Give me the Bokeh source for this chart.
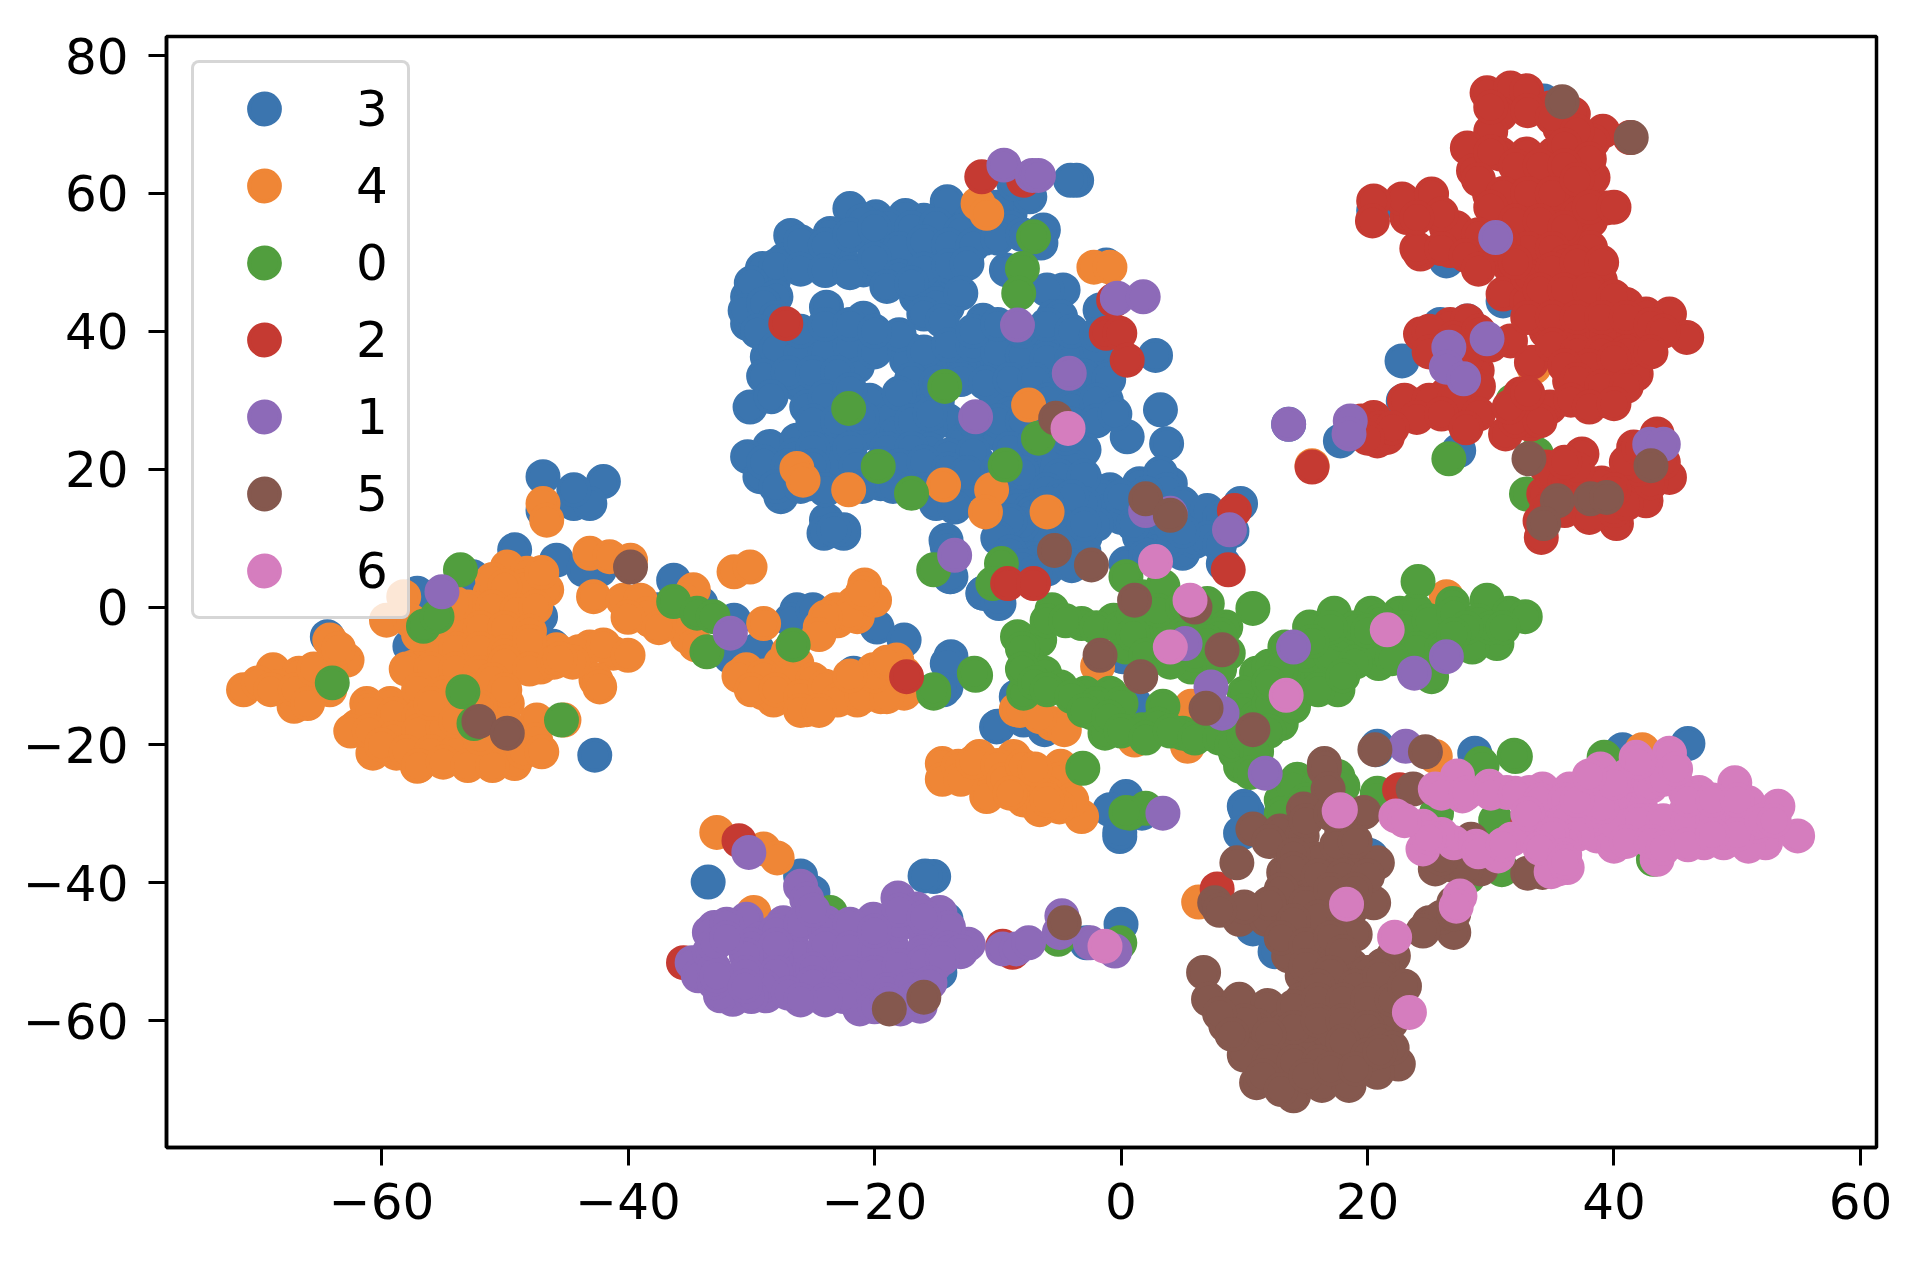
from bokeh.plotting import figure
from bokeh.models import Legend, LegendItem, FixedTicker, Range1d
from bokeh.embed import file_html
from bokeh.resources import INLINE

labels = ["3", "4", "0", "2", "1", "5", "6"]
colors = ["#3b75af", "#ef8636", "#519e3e", "#c53a32", "#8d6ab8", "#85584e", "#d57dbe"]

x_ticks = [-60, -40, -20, 0, 20, 40, 60]
y_ticks = [-60, -40, -20, 0, 20, 40, 60, 80]

s3 = [(-26.8,53.9),(-22.0,57.8),(-19.9,56.6),(-17.5,56.8),(-14.1,58.8),(-23.6,54.2),(-27.4,50.3),(-29.1,49.1),(-30.3,45.0),(-30.3,41.1),
(-25.5,51.3),(-22.8,52.2),(-20.4,53.2),(-18.2,53.7),(-16.0,56.1),(-14.4,54.2),(-12.2,56.1),(-10.6,55.6),(-9.0,57.1),(-7.4,59.5),(-6.3,54.7),(-10.1,58.0),
(-20.9,48.9),(-17.6,49.8),(-15.5,51.8),(-13.3,51.8),(-11.7,54.2),(-15.5,46.4),(-14.1,43.5),(-16.6,45.0),(-28.2,47.4),(-24.9,50.3),(-22.5,49.8),(-13.6,48.4),(-8.7,61.4),(-3.6,61.9),(-4.1,61.9),
(-9.3,48.9),(-4.7,46.0),(-6.0,46.0),(-5.5,42.1),(-1.7,43.1),(-1.2,49.6),(2.8,36.5),
(-23.9,43.5),(-20.9,41.9),(-25.8,38.7),(-28.7,36.3),(-26.8,38.7),(-23.1,38.7),(-19.5,38.7),(-17.1,37.3),(-14.4,36.3),(-11.2,41.6),(-11.7,37.7),(-8.7,37.7),(-6.0,38.7),(-3.6,38.2),(-4.9,42.1),(-2.0,35.8),(-1.2,30.0),(-3.3,31.0),(-4.9,34.4),(-7.9,34.9),(-10.1,34.9),(-12.8,34.9),(-15.5,34.4),(-17.4,35.8),(-21.7,36.3),(-24.1,36.3),
(-28.5,32.9),(-30.1,29.0),(-26.3,32.4),(-24.1,32.9),(-21.4,34.9),(-25.5,29.0),(-23.1,29.5),(-20.4,30.0),(-18.7,27.6),(-16.6,30.0),(-14.9,30.0),(-14.1,27.1),(-10.1,30.0),(-7.9,31.0),(-15.5,26.1),
(-28.5,23.3),(-30.3,21.8),(-26.3,24.2),(-23.6,25.2),(-20.9,25.2),(-18.2,25.2),(-15.5,22.8),(-12.8,24.2),(-10.1,25.2),(-8.5,26.6),(-3.0,22.8),(-6.0,21.3),(-7.9,21.3),(-11.7,21.3),
(-29.3,18.9),(-27.6,16.0),(-25.2,17.9),(-23.6,20.8),(-19.5,17.9),(-16.8,19.4),(-14.1,16.0),(-12.8,17.5),(-7.9,17.0),(-8.4,14.6),(-23.9,12.6),(-22.5,11.2),(-3.9,20.4),(-2.2,17.0),(-0.9,17.0),(0.5,24.7),(3.2,28.6),(3.7,23.7),(1.5,17.9),(4.0,17.9),(3.2,19.4),(2.1,15.0),(-0.6,16.5),(5.9,13.1),(4.5,14.1),(7.2,12.1),(6.7,10.7),(3.4,11.2),(-3.9,13.6),(-4.1,11.2),(-5.8,14.6),(-7.4,14.1),(-8.4,10.2),(1.5,10.2),
(-7.2,13.6),(-4.6,13.6),(-7.6,9.7),(-5.2,7.3),(-2.9,10.2),(-1.6,16.0),(3.7,17.0),(6.4,12.1),(3.0,8.7),(5.0,7.8),(0.4,6.3),(9.7,15.0),(8.3,6.3),(-14.2,9.7),(-13.8,4.4),(-11.2,2.0),(-9.9,0.5),
(-13.8,-7.2),(-14.2,-11.6),(-10.0,-17.3),(-8.5,-13.0),(-6.2,-17.8),(1.1,-14.0),(0.1,-7.2),(0.4,-27.5),(-0.9,-29.4),(-0.1,-33.3),(1.7,-29.9),(10,-28.9),(10.3,-29.9),(9.7,-32.8),(20.8,-20.2),(28.7,-21.2),(-15.2,-39.1),(20.3,-36.2),
(-36.3,3.9),(-34.1,0.5),(-37.6,-0.4),(-31.4,-1.9),(-26.3,-0.4),(-26.8,-1.9),(-25,-0.4),(-19.8,-2.9),(-17.6,-4.8),(-21.7,-9.6),(-14.1,-8.2),(-14.4,-12.0),(-31.7,-7.2),(-29.5,-6.2),(-10.1,-17.4),(-11.2,2),(-10,1),(-14.1,8.7),(-13.9,4.4),(-8.5,9.2),(-8.5,6.3),(-7.4,10.2),(-24.1,10.7),(-22.5,10.7),(-23.3,11.2),(-7.9,-16.4),
(-46.9,18.9),(-42.0,18.2),(-44.4,15),(-43.1,15),(-46.9,14),(-44.4,17),(-49.2,8.3),(-45.8,6.8),(-43.6,5.4),(-42.3,5.4),(-47.1,-1.4),(-64.4,-4.3),(-57.1,2),(-49.3,-8.7),(-46.1,-5.7),(-42.7,-21.5),(-52.6,4.4),(-57.7,-5.7),
(-33.5,-39.9),(-15.9,-39.0),(-26.0,-39),(-25,-41.4),(-14.2,-45.3),(-14.7,-53),(0,-46.0),(-2.8,-48.7),(-0.1,-32.7),
(20.5,57.5),(34.3,73.4),(26.4,50.2),(22.8,35.7),(22.9,29.9),(13.6,26.5),(17.8,24.1),(27.4,22.7),(28.1,41.5),(25.9,41),(31,44.4),(40,34.8),(28,28),
(20.7,-20.7),(28.8,-21.8),(40.7,-20.7),(46,-19.8),(10.1,-29.4),(9.9,-32.7),(12.5,-50),(10.7,-46.7),(20.1,-36),
(-21,56),(-19,55.5),(-17,55),(-15,55.5),(-13,54.5),(-11,53.5),(-9,55),(-26,53),(-24,52.5),(-22,54),(-20,55),(-18,52),(-16,53),(-14,52.5),(-12,52.5),(-10,53.5),(-8,54),(-6.5,52.8),
(-28,49.5),(-26,49),(-24,48.8),(-22,48.5),(-20,50.5),(-18,48),(-16,49),(-14,49.5),(-12.5,49.8),(-30,47),(-28,45),(-19,46.5),(-17,47),(-15,44),(-13,45.5),(-30.5,43),(-29,44),(-28,42),(-29.5,40),(-16,42.5),(-14.5,41.5),
(-28,37.5),(-26,36.5),(-24,37),(-22,38),(-20,37),(-18,39.5),(-16,37),(-14,38),(-12,38),(-10,37),(-8,36.5),(-6,36),(-4,36),(-2,37.5),(-26,40),(-24,41),(-22,41),(-20,40),(-12,40),(-10,41),(-8,40),(-6,41),(-4,40),(-2,39.5),
(-29,33.5),(-27,34),(-25,34),(-23,34),(-17,33),(-15,32.5),(-13,33),(-11,32.5),(-9,33),(-7,33),(-5,32),(-3,33.5),(-1,33),
(-28.4,30.5),(-24,30.5),(-22,31.5),(-18,31),(-9,28),(-6,30),(-4,29),(-2,30),(-25,27),(-23,27),(-21,27.5),(-17,27),(-15.5,28),(-12,27),(-10,27),(-8,27),(-6,26.5),(-4,26.5),(-2,27),(-0.5,28),
(-26.5,22),(-25,23),(-22,23),(-19,23),(-17,23),(-14,22),(-12,22.5),(-9,23),(-7,24),(-4.5,24.5),(-29,21),(-27,20.5),(-25,20.5),(-21.5,20.5),(-19.5,20.8),(-18,20.5),(-16,21),(-14,20),(-12.5,19.5),(-10,20),(-8,19.5),(-5,19),(-3,19),
(-28,17.5),(-26,17.5),(-24,17),(-21,17.5),(-18.5,17.5),(-16,17),(-15,15),(-13.5,14.5),(-1,14),(0,13),(-2,12),(-3,15),(-6,11),(-6,12.5),(-6,9.8),(-4,10),(-3,8),(-7,7),(-6,5.5),(-4,6),
(0,16),(2,16.5),(5,15),(7,14),(8,13),(6,9.5),(4,9.5),(2,7.5),(7,10),(9,11),(8,9),
(-6,17),(-5,16),(-4,16),(-8,12),(-6,15),(-3,12),(-9,12.5),(-10,10),(-9,8),(-8,6),(-7,5),(3,13),(1,12),(4,12),(5,11)]

s4 = [(-46.9,15),(-46.6,12.6),(-43.1,7.8),(-41.5,7.3),(-39.8,6.8),(-42.8,1.5),(-40.4,1),(-38.2,-1.9),
(-49.8,5.8),(-48.2,4.9),(-46.6,2.5),(-51.2,2),(-49.3,1),(-53.6,-1.4),(-51.7,-1.4),(-48.8,-1.9),(-55,-4.3),(-52.3,-4.8),(-49.6,-4.8),(-57.4,-8.7),(-55,-7.7),(-52.3,-7.7),(-48,-6.2),(-45.8,-6.2),(-43.1,-5.8),(-41.2,-6.7),(-47.1,-8.7),(-42.6,-10.6),(-42.3,-11.6),(-56.3,-11.6),(-53.4,-10.1),(-51.7,-12.5),(-49.8,-14),(-59.6,-1.9),(-58.2,1.5),(-57.7,-1.9),
(-61.2,-14),(-59.3,-14),(-62,-17.3),(-60.7,-21.2),(-59.3,-17.3),(-57.4,-15.4),(-55.5,-16.4),(-57.7,-19.3),(-55.5,-19.3),(-57.1,-23.1),(-58.8,-21.2),(-56.9,-22.7),(-53.4,-22.2),(-50.6,-22.2),(-49.2,-22.7),(-55,-20.2),(-47.4,-16.4),(-47.5,-19.3),(-45.2,-16.4),
(-71.2,-12),(-68.8,-9.1),(-66.7,-9.6),(-64.2,-4.8),(-62.8,-7.7),(-67.1,-14.4),(-68.5,-11.6),(-65.8,-11.6),(-64.2,-12),(-64.2,-8.7),
(-31.4,5.1),(-30.1,5.8),(-38.2,-1.9),(-34.7,2.5),(-35.5,1),(-35.2,-4.3),(-29,-2.4),(-20.8,3.2),(-21.7,0.5),(-23.1,-0.4),(-21.4,-1.4),(-24.4,-2.9),(-30.4,-9.1),(-27.6,-8.2),(-26.3,-8.2),(-29,-12.5),(-28.2,-13.5),(-25.5,-14.9),(-25.5,-12.5),(-23.3,-13),(-21.4,-13.5),(-19.5,-13),(-17.6,-12.5),(-20.1,-9.1),(-18.2,-7.7),(-17.6,-9.6),(-27.1,-10.6),(-8.5,-14.9),(-7.9,-14.4),
(-14.5,-22.7),(-14.5,-25),(-11.5,-21.7),(-8.7,-21.7),(-11.2,-24.6),(-10.9,-27.5),(-8.2,-25),(-7.9,-28),(-4.9,-23.1),(-4.6,-26),(-6.6,-29.4),(-3.2,-30.4),(-13.2,-23.1),
(-8.2,-15),(-5.6,-16.9),(-4.6,-17.8),(-6.6,-15.9),(-1.9,-8.6),(-0.3,-13.5),(5.7,-14.4),(5.4,-20.2),(1.1,-19.3),
(-11.6,58.5),(-10.9,57.1),(-2.2,49.3),(-0.9,49.3),(-26.3,20.1),(-25.8,18.4),(-22.1,17),(-14.4,17.7),(-10.5,17),(-11,13.8),(-6,13.8),(-7.5,29.3),
(33.5,34.8),(15.5,20.5),(-32.8,-32.7),(-29,-35.1),(-27.9,-36.4),(-29.8,-44.3),(6.3,-42.8),(26.4,1.5),(25.5,-21.7),(42.3,-20.7),
(-51,4),(-48.5,3),(-47,5),(-50,3),(-53,0),(-51,0),(-49,-0.5),(-47.5,0),(-56,-3),(-54,-3),(-52,-3),(-50,-3),(-48,-3.5),(-56,-6),(-54,-6),(-52,-6),(-50,-6.5),(-48,-5),(-44,-6.5),(-42,-5.5),(-40,-7),(-58,-9),(-56,-9),(-54,-9),(-52,-9.5),(-50,-8),(-48,-9),(-46,-8),
(-57,-12),(-55,-12.5),(-53,-12),(-51,-10.5),(-61,-15),(-59,-15.5),(-57,-16),(-55,-14.5),(-53,-14.5),(-51,-15),(-62.5,-18),(-61,-18),(-59,-19),(-57,-18),(-55,-17.5),(-53,-18),(-60,-20),(-58,-21),(-56,-21),(-54,-21),(-52,-20.5),(-50,-20.5),(-57,-23),(-55,-22.5),(-53,-23),(-51,-23),
(-70,-11),(-69,-12),(-67,-12),(-66,-14),(-65.5,-9),(-63.5,-6),
(-31,-10),(-29,-10),(-27,-9.5),(-25,-10.5),(-30,-12),(-28,-12),(-26,-13),(-24,-11.5),(-22,-11),(-20,-11),(-18.5,-11),(-23,-13.5),(-21,-13),(-19,-13),(-26,-15),(-24.5,-15),(-20,-10),(-18,-9),(-27,-6.5),(-22,-10),(-19,-8),
(-23,-2),(-22,-1),(-20,1),(-21,2),(-24,-1.5),(-24.5,-4),(-39,1),(-38.5,-1),(-40,-1.5),(-37.5,-3),(-35,-2),(-34.5,-5.5),
(-13,-25),(-12,-22.5),(-10,-23),(-9.5,-25),(-8,-23),(-6.5,-25),(-5,-25),(-9,-27),(-6,-27),(-4,-28),(-5,-29),(-7,-23.5),(-6,-28),
(-56,-14),(-54,-16.5),(-50,-17),(-52,-19),(-48.5,-21),(-47,-21),(-50,-12),(-52,-14.5),(-44.5,-8),(-45.5,-7.5),(-55,-1.5),(-57,-4),(-54,0.5)]

s0 = [(-53.6,5.4),(-56.6,-2.8),(-55.5,-1.4),(-64,-11),(-53.4,-12.3),(-52.5,-16.9),(-45.4,-16.4),
(-36.3,0.8),(-34.4,-0.9),(-33.1,-1.4),(-33.6,-6.5),(-26.6,-5.5),(-15.2,5.4),(-9.7,6.3),(-10.4,3.4),(-15.2,-12.5),(-11.8,-9.9),
(-7.1,53.7),(-8,49.1),(-8.3,45.5),(-14.3,32),(-22.1,28.8),(-6.7,24.5),(-9.4,20.6),(-19.7,20.4),(-17,16.5),
(0.4,4.4),(1.7,1.5),(3.4,3),(7,0.5),(10.7,-0.2),(8.5,-2.9),(5,-1.9),(-0.6,-1.9),(2.4,-1.9),(-5.6,-0.4),(-3.2,-2.4),(-8.4,-4.3),(-6.6,-4.8),(0.4,-5.8),(5.7,-8.7),(3.4,-5.8),(8.7,-6.7),(-7.6,-7.7),(-7.9,-12.5),(-6.2,-9.6),(-4.9,-11.6),(-2.9,-12.5),(-0.9,-12.5),(-2.3,-15.4),(-1.3,-18.3),(1.7,-17.8),(3.4,-14.4),(5,-18.3),(7,-18.3),(9.3,-21.2),(9.7,-23.1),(11,-19.8),(13,-16.9),(11.3,-12.5),(11,-9.6),(14,-14.4),(10,-12.5),(12,-8.6),(14.3,-11.6),(17.6,-12),(16.3,-8.6),(15.3,-2.9),(17.3,-0.9),(20.3,-0.9),(22.6,-0.9),(18,-6.7),(20.9,-8.2),(23.9,-0.4),(24.1,3.7),(26.9,0.5),(29.7,1),(31.5,-0.9),(32.8,-1.4),(30.5,-5.3),(27.5,-3.3),(24.9,-4.3),(24.2,-8.7),(28.5,-5.8),(25.2,-10.1),(19.3,-5.8),(13.3,-5.8),
(-11.9,-9.6),(-15.2,-12),(-3.1,-23.4),(0.7,-29.9),(2,-29.2),(14.3,-25),(17.6,-24.6),(13,-28),(14.3,-27.5),(19,-35.7),(20.8,-27),(32,-21.7),(29.2,-22.7),(25.6,-29.9),(30.4,-30.9),(30.9,-38.1),(28.2,-39.1),
(26.6,21.5),(32.9,16.4),(33.7,22.2),(31.8,29.9),(43.2,-36.6),(39.2,-21.8),(31.9,-21.5),(29.3,-23),(20.8,-27.5),(-23.6,-44.3),(-5.1,-48.2),(-0.1,-48.7),(0.4,-29.8),
(-6,-2),(-4.5,-2),(-2,-3),(0,-3),(2,-3),(4,-3),(6,-3),(8,-4),(1,-1),(3,-0.5),(5,0),(-8,-6),(-8,-9),(-7,-11),(-6,-12),(-4,-13),(-2,-14),(0,-14),(-3,-15),(-1,-16),(0,-18),(3,-17),(2,-19),(4,-18),(6,-19),(8,-19),(9,-20),
(1,-4),(2,-7),(4,-8),(6,-7),(7,-5),(8,-9),(5,-4),
(10,-15),(11,-16),(12,-14),(13,-12),(14,-10),(16,-10),(15,-7),(13,-9),(17,-7),(18,-4),(19,-3),(21,-2),(23,-3),(25,-2),(27,-1),(29,-2),(30,-3),(31,-3),(22,-5),(24,-6),(26,-6),(28,-3),(21,-6),(19,-8),(17,-3),(15.5,-5),(16,-12),(18,-10),(12,-18),(10,-19),(11,-21),(10.5,-24),(12,-11),(20,-3.5),(22,-7.5),(27,-4),
(14,-26),(16,-26),(18,-26),(15,-28),(13,-30),(17,-27)]

s2 = [(29.7,74.6),(31.6,75.3),(32.9,74.9),(34.8,72.4),(36.7,71.5),(30.8,71.5),(39.1,69),(41.3,68.1),(38.3,67.6),(30,69),(28.1,66.6),(35.6,69.5),(28.6,63.3),(30.8,65.7),(32.9,65.7),(35.1,65.7),(29.9,59.9),(32.4,61.8),(34.6,61.8),(38.3,62.3),(36.7,59.9),(39.4,57.9),(31.3,57.5),(33.7,57.9),(35.9,57),(38.1,56),(32.4,53.6),(34.8,54.6),(37,52.1),(38.1,52.1),(34,50.7),(31.6,49.2),(28.6,51.7),(26.7,51.7),(24.3,51.2),(26.4,55.0),(27.2,55),(23.2,56.5),(22.8,59.2),(25.2,59.9),(20.5,58.9),(20.4,56),
(31,45.4),(34.5,47.8),(38.9,47.3),(36.7,47.8),(32.9,44.4),(35.6,44.4),(38.3,44.4),(41,43.9),(42.6,42.5),(44.5,42.5),(45.9,39.1),(41,39.6),(43.2,39.1),(34.5,40),(37,39.6),(39.1,39.6),(34.3,41.5),(36.4,32.8),(38.3,33.8),(41.8,33.8),(39.7,34.3),(39.4,29.9),(37.2,30.9),(40.5,31.9),
(24.3,39.6),(26.7,41),(28.1,41.5),(26.7,37.2),(28.9,37.7),(31.6,38.6),(28.9,34.3),(33.3,35.5),(32.4,30.9),(33.5,28),(34.8,29),(33.2,26.5),(31.2,25.1),
(23.5,29),(25.4,29),(27.8,28.5),(27.5,27.5),(26.4,30.9),(20.5,27.5),(19.7,25.1),(21.6,24.6),(20.8,24.1),(15.5,20.3),
(34.5,20.3),(37.4,22.2),(37.4,15),(34.3,16.4),(40.2,12.1),(34.1,10.1),(39.4,16.4),(41.6,23.2),(43.5,25.1),(44.5,18.8),(42.6,15.4),(41,18.8),(34,12.5),
(-11.3,62.4),(-7.9,61.9),(-27.2,41.1),(-0.6,44.5),(-1.2,39.7),(-0.1,39.7),(0.5,35.8),
(-9.2,3.4),(-7.1,3.4),(8.7,5.4),(9.2,14),(-17.4,-10.1),(-31,-33.9),(-35.5,-51.6),(-9.6,-49.2),(-8.8,-50.1),(7.8,-40.9),(22.6,-26.5),(33,-31.4),
(30,72.5),(33,72),(35,71),(37,69),(36,67),(38,65),(30,66),(32,64),(34,64),(36,64),(29,62),(31,60),(33,60),(35,60),(37,62),(37,57),(30,58),(32,56),(34,56),(36,55),(38,58),(40,58),(33,52),(35,52),(31,53),(29,54),(36,50),(38,49),(33,48),(30,52),(32,50),(35,49),(37,50),(39,50),
(34,46),(36,46),(38,46),(40,45),(33,42),(35,42),(37,42),(39,42),(41,42),(43,41),(44,40),(35,38),(37,37),(39,37),(41,37),(43,37),(38,35),(40,36),(36,35),(37,33),(39,32),(41,32),(36.5,30),(38,29),(40,29.5),
(24,52),(26,52),(28,51),(29,49),(26,57),(24,56.5),(25,40),(27,39),(29,40),(25,37),(28,36),(30,38),(27,35),(29,32),(23,30),(25,30),(27,30),(29,28),(24,27.5),(26,28),(28,26),(19.5,27),(21,26),(22,26),(20,24.5),(32,27),(34,27),(31.5,29),(33,31),
(35,19),(36,18),(35,15),(37,18),(38,18),(39,18),(36,14),(38,13),(40,14),(41,15),(43,18),(42,20),(41,21),(43,22),(40,17),(42,23),(44,21),(34.5,14),(37,20),(36,21)]

s1 = [(-9.5,64.1),(-7.2,62.6),(-6.7,62.6),(-0.3,44.8),(1.8,45),(-8.4,40.9),(-4.2,33.9),(-11.8,27.6),(-55.1,2.2),(-31.7,-3.8),
(30.4,53.6),(26.6,37.7),(29.7,38.9),(26.4,34.8),(27.8,33.1),(13.6,26.5),(18.6,27),(18.5,25.1),(42.9,23.6),(44,23.6),
(-13.5,7.5),(8.8,11.2),(2,14),(4,13.6),(14,-5.8),(26.4,-7.2),(23.8,-9.6),(5.2,-5.3),(7.3,-11.6),(8.2,-15.4),(11.7,-24.1),(3.4,-29.9),(23.1,-20.2),
(-30.2,-35.6),(-26,-40.5),(-33,-46.5),(-30.4,-45.3),(-34.8,-51.6),(-34.3,-53.5),(-31.5,-56.9),(-32.5,-56.4),(-28.8,-56.4),(-26.9,-55.4),(-24.4,-55.9),(-21.2,-58.3),(-17.9,-58.3),(-16.3,-57.9),(-15.2,-52.1),(-12.4,-48.9),(-14.7,-44.3),(-18.1,-42.2),(-16.6,-43.8),(-20.1,-45.3),(-23.9,-45.8),(-25.5,-42.4),(-27.4,-45.8),(-29.3,-48.2),(-29.8,-52),(-26.6,-49.6),(-23.9,-51.1),(-21.2,-52.1),(-18.5,-49.6),(-15.8,-48.2),(-21.2,-48.2),(-18.5,-54.5),(-21.2,-55),(-26.6,-53.5),(-23.9,-54),(-33.4,-47.2),(-28,-51.1),(-33.4,-50.1),(-15.8,-53),
(-9.6,-49.6),(-8.5,-49.6),(-7.5,-48.7),(-4.8,-44.8),(-5,-47.2),(-2.5,-48.7),(-0.5,-49.9),
(-32,-46),(-28,-47),(-26,-46),(-24,-47),(-22,-46),(-20,-47.5),(-18,-46),(-16,-46),(-14,-46.5),(-30,-49),(-28,-49),(-24,-49),(-22,-49.5),(-20,-50),(-16,-50),(-14,-49.5),(-13,-50),
(-28,-53),(-25,-52.5),(-22,-53),(-20,-53),(-18,-52),(-16,-51.5),(-14.5,-51),(-33,-52.5),(-29,-55),(-27,-56),(-25,-54.5),(-23,-55.5),(-19,-55.5),(-17,-55),(-15.5,-54.5),(-33,-54.5),(-30,-56.5),(-22.5,-56.5),(-20,-58),(-19,-57),(-17,-57),(-25,-44),(-18,-44),(-16,-45),(-20,-47),
(-30.4,-50.5),(-30.4,-53),(-33,-49),(-32.8,-53.5),(-32,-48),(-30.5,-55),(-24,-57),(-26,-57)]

s5 = [(-52.1,-16.6),(-49.8,-18.3),(-39.8,5.8),(35.8,73.3),(41.4,68.1),(33.1,21.5),(43,20.5),(35.4,15.4),(38.1,15.7),(39.4,15.9),(34.3,12.1),
(-5.4,8.2),(-2.4,6.1),(2,15.7),(4,13.3),(1.1,1),(6,0),(8.2,-6.2),(-1.7,-7),(1.6,-10.1),(6.9,-14.7),(10.7,-17.8),(20.6,-20.7),(24.7,-21),(16.5,-22.7),
(16.5,-23.5),(16.8,-26.4),(14.8,-29.3),(19.7,-29.8),(10.7,-32.2),(12.9,-32.5),(14.7,-33.2),(17.9,-32.2),(9.4,-37.1),(20.8,-37.1),(18.3,-37.1),(13.2,-38.5),(15.8,-36.6),(15,-41.4),(20.5,-42.9),(7.6,-42.9),(9.6,-45.3),(11.8,-45.3),(14,-43.4),(18.7,-43.8),(17.6,-46.3),(14.7,-47.2),(13.6,-50.6),(16.5,-50.6),(18.7,-52),(22.1,-50.6),(21.2,-52),(25,-45.8),(27,-47.2),(27,-42.9),(14.7,-53.5),(6.7,-53),(7.1,-56.9),(9.6,-56.9),(11.9,-57.8),(18.3,-55),(20.5,-55),(14.7,-56.9),(17.6,-58.3),(20.1,-58.8),(21.9,-60.3),(10.1,-63.6),(8.5,-60.7),(13.2,-60.7),(16.8,-61.7),(19.7,-63.2),(11.8,-64.6),(15,-64.6),(18.3,-65.6),(22.5,-66.3),(11,-69),(14,-70.9),(16.3,-69.4),(18.5,-69.4),(20.8,-67.5),(13.2,-68),(11,-60.7),(15,-60.7),
(27,-37.5),(25.5,-38),(29.2,-38),(28.4,-33.7),(34.2,-38.5),(23.7,-26.4),(-4.6,-45.8),(-18.8,-58.3),(-16,-56.6),(-5.3,27.4),(33,-38.6),
(15,-31),(17,-30),(12,-34),(17.5,-34.5),(14,-36),(19,-34),(14,-38),(16,-39),(18,-39),(20,-39),(13,-41),(15,-43),(17,-41),(19,-41),(12,-43),(10,-43.5),(8,-44),(16,-45),(14,-45.5),(18,-46),(19,-47.5),(13,-48),(15,-49),(17,-48),(18,-50),(20,-53),(15,-52),(17,-53),(19,-55),(21,-53.5),(16,-55),
(14,-58),(16,-57),(18,-57),(20,-57),(22,-57),(13,-63),(14,-61),(16,-60),(18,-60),(20,-61),(21,-63),(10,-60),(12,-62),(10,-65),(12,-66),(14,-66),(16,-66),(18,-63),(20,-65),(22,-64),(11.5,-68),(13,-70),(15,-68),(17,-67),(19,-67),(21,-64.5),(8,-59),(9,-62),(23,-55),(26,-45),(24.5,-47),(27,-44.5),(28,-38),(26,-36.5)]

s6 = [(-4.3,25.9),(2.8,6.6),(5.6,1),(4,-5.8),(13.4,-12.8),(21.6,-3.3),(17.8,-29.4),(17.7,-29.6),(18.3,-43.1),(22.2,-47.9),(23.4,-58.8),(27.5,-41.9),(27.2,-43.4),(-1.3,-49.2),
(25.5,-26.4),(27.3,-24.5),(29.9,-26),(27.7,-27.4),(22.3,-30.3),(24.5,-31.8),(24.5,-35.1),(27,-34.2),(28.8,-34.7),(30.6,-36.1),(31.7,-33.7),(34.2,-26.4),(36.4,-26.4),(39.3,-25),(41.5,-24),(44.4,-23),(38.9,-23.5),(46.9,-26.9),(49.8,-25.5),(50.9,-28.4),(53.3,-28.9),(54.9,-33.2),(52.3,-34.2),(50.9,-34.7),(48.9,-34.2),(47.3,-34.2),(49.5,-30.8),(45.8,-29.8),(42.2,-29.3),(38.6,-29.3),(35.7,-29.3),(33.1,-26.9),(31.3,-26.9),(35,-31.8),(38.6,-33.2),(40,-34.7),(42.2,-32.7),(43.5,-36.6),(45.8,-33.2),(35.7,-35.6),(35.5,-38),(34.2,-32.2),(38.6,-26.9),(42.2,-26),(45.8,-26.9),(51.6,-31.8),(41.8,-21.8),(44.5,-21.2),(34.9,-38.4),(36.2,-37.8),
(26,-27),(28,-27),(30,-27),(32,-27),(34,-28),(36,-28),(33,-30),(36,-31),(38,-31),(40,-31),(42,-31),(44,-31),(46,-31),(48,-31),(50,-33),(40,-27),(41,-24.5),(43,-26),(44,-25),(46,-28),(48,-28),(50,-28),(52,-31),(53,-31),(37,-33),(36,-34),(41,-34),(43,-34),(44,-35),(46,-34.5),(48,-33),(39,-29),(37,-28),(35,-33),(34,-35),(36,-36),(26,-33),(25,-33.5),(29,-35.5),(31,-34.5),(23,-31),(45,-23.5),(42,-22.5),(40,-25.5),(38,-24.5),(36,-37)]

series = [s3, s4, s0, s2, s1, s5, s6]

p = figure(width=1914, height=1250, output_backend="svg", toolbar_location=None,
           x_range=Range1d(-77.45, 61.3), y_range=Range1d(-78.4, 82.76),
           min_border_left=166, min_border_right=38, min_border_top=36, min_border_bottom=103)
p.grid.visible = False
p.outline_line_color = "black"
p.outline_line_width = 3.5
p.background_fill_color = "white"

def minus(v):
    return str(v).replace("-", "\u2212")

for ax, ticks in ((p.xaxis[0], x_ticks), (p.yaxis[0], y_ticks)):
    ax.ticker = FixedTicker(ticks=ticks)
    ax.major_label_overrides = {t: minus(t) for t in ticks}
    ax.minor_tick_line_color = None
    ax.major_tick_in = 0
    ax.major_tick_out = 18
    ax.major_tick_line_width = 3
    ax.major_tick_line_color = "black"
    ax.axis_line_width = 3.5
    ax.axis_line_color = "black"
    ax.major_label_text_font = "DejaVu Sans"
    ax.major_label_text_font_size = "50px"
    ax.major_label_text_color = "black"
p.xaxis[0].major_label_standoff = 17
p.yaxis[0].major_label_standoff = 20
p.yaxis[0].major_label_orientation = "horizontal"

items = []
for name, col, pts in zip(labels, colors, series):
    r = p.scatter([a for a, b in pts], [b for a, b in pts], size=31, marker="circle",
                  fill_color=col, line_color=col, line_width=4)
    items.append(LegendItem(label=name, renderers=[r]))

legend = Legend(items=items, location=(25, 528), orientation="vertical",
                glyph_width=126, glyph_height=77, spacing=0, padding=7, margin=0,
                label_standoff=29, label_width=44, label_height=40,
                label_text_font="DejaVu Sans", label_text_font_size="50px", label_text_color="black",
                label_text_baseline="middle",
                background_fill_color="white", background_fill_alpha=0.8,
                border_line_color="#cccccc", border_line_width=3.5, border_line_alpha=0.8)
if "border_radius" in legend.properties():
    legend.border_radius = 8
p.add_layout(legend, "center")

open("out.html", "w").write(file_html(p, INLINE))
